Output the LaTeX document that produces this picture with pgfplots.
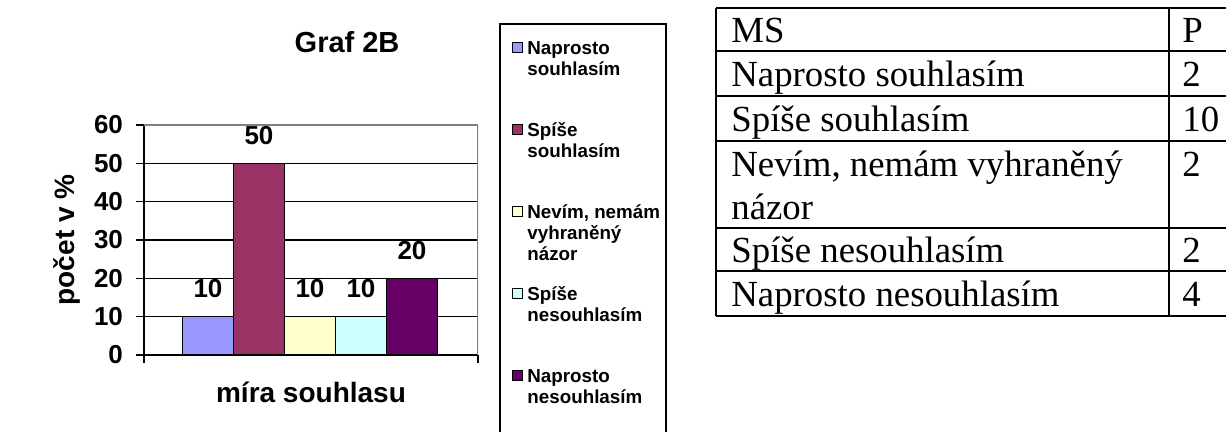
\documentclass[border=0pt]{standalone}
\usepackage{fontspec}
\setmainfont{Liberation Sans}
\newfontfamily\tnr{Liberation Serif}
\usepackage{pgfplots}
\pgfplotsset{compat=1.18}
\definecolor{c1}{HTML}{9999FF}
\definecolor{c2}{HTML}{993366}
\definecolor{c3}{HTML}{FFFFCC}
\definecolor{c4}{HTML}{CCFFFF}
\definecolor{c5}{HTML}{660066}
\pgfplotsset{
  sq legend/.style={legend image code/.code={\draw[##1,draw=black,line width=0.5pt] (0pt,1pt) rectangle (5pt,6pt);}},
  mybar/.style={fill=#1, draw=black, line width=0.6pt, bar shift=0pt, sq legend},
}
\newcommand{\lent}[1]{\parbox[t]{78pt}{\raggedright #1}}
\begin{document}
\begin{tikzpicture}
\begin{axis}[
  at={(72pt,38.5pt)}, anchor=south west,
  scale only axis, width=167pt, height=115pt,
  xmin=0, xmax=334, ymin=0, ymax=60,
  ybar, bar width=51,
  axis x line*=bottom, axis y line*=left,
  axis line style={-, black, line width=0.6pt},
  ytick={0,10,...,60}, xtick={0,334}, xticklabels={,,},
  tick align=outside, major tick length=4pt,
  tick style={black, line width=0.6pt},
  ymajorgrids, grid style={black, line width=0.6pt},
  /pgf/number format/assume math mode=true,
  yticklabel style={font=\bfseries\fontsize{13}{15}\selectfont, xshift=-3pt},
  nodes near coords,
  every node near coord/.append style={anchor=base, yshift=9.5pt, font=\bfseries\fontsize{13}{15}\selectfont, inner sep=0pt},
  title={Graf 2B},
  every axis title shift=0pt,
  title style={at={(axis description cs:0.608,1)}, anchor=base, yshift=36pt, font=\bfseries\fontsize{14.5}{17}\selectfont, inner sep=0pt},
  xlabel={míra souhlasu},
  every axis x label/.style={at={(axis description cs:0.5,0)}, anchor=base, yshift=-24pt, font=\bfseries\fontsize{14}{17}\selectfont, inner sep=0pt},
  ylabel={počet v \%},
  every axis y label/.style={at={(axis description cs:0,0.5)}, xshift=-38.5pt, rotate=90, anchor=center, font=\bfseries\fontsize{14}{17}\selectfont, inner sep=0pt},
  legend style={at={(axis description cs:1.1018,1.3826)}, anchor=north west, draw=none, fill=none,
    inner sep=0pt, row sep={41pt,between origins}, column sep=0pt,
    cells={anchor=base west, inner sep=0pt},
    font=\bfseries\fontsize{9.4}{10.5}\selectfont},
]
\addplot[mybar=c1] coordinates {(64,10)};
\addlegendentry{\lent{Naprosto\\souhlasím}}
\addplot[mybar=c2] coordinates {(115,50)};
\addlegendentry{\lent{Spíše\\souhlasím}}
\addplot[mybar=c3] coordinates {(166,10)};
\addlegendentry{\lent{Nevím, nemám\\vyhraněný\\názor}}
\addplot[mybar=c4] coordinates {(217,10)};
\addlegendentry{\lent{Spíše\\nesouhlasím}}
\addplot[mybar=c5] coordinates {(268,20)};
\addlegendentry{\lent{Naprosto\\nesouhlasím}}
\draw[gray, line width=0.6pt] (rel axis cs:0,1) -- (rel axis cs:1,1) -- (rel axis cs:1,0);
\end{axis}
% legend frame
\draw[line width=0.65pt] (250pt,-5pt) rectangle (333pt,204pt);
% table
\begin{scope}[line width=0.8pt]
\foreach \yy in {212,190.5,168,145.5,102,80.5,58} {\draw (358pt,\yy pt) -- (620pt,\yy pt);}
\draw (358pt,212pt) -- (358pt,58pt);
\draw (584.5pt,212pt) -- (584.5pt,58pt);
\end{scope}
\begin{scope}[every node/.style={anchor=base west, inner sep=0pt, font=\tnr\fontsize{18.4}{22}\selectfont}]
\node at (365.5pt,194.5pt) {MS};
\node at (365.5pt,172.5pt) {Naprosto souhlasím};
\node at (365.5pt,150pt) {Spíše souhlasím};
\node at (365.5pt,127.5pt) {Nevím, nemám vyhraněný};
\node at (365.5pt,106pt) {názor};
\node at (365.5pt,84.5pt) {Spíše nesouhlasím};
\node at (365.5pt,62.5pt) {Naprosto nesouhlasím};
\node at (591pt,194.5pt) {P};
\node at (591pt,172.5pt) {2};
\node at (591pt,150pt) {10};
\node at (591pt,127.5pt) {2};
\node at (591pt,84.5pt) {2};
\node at (591pt,62.5pt) {4};
\end{scope}
\pgfresetboundingbox
\useasboundingbox (0pt,0pt) rectangle (613pt,216pt);
\end{tikzpicture}
\end{document}
